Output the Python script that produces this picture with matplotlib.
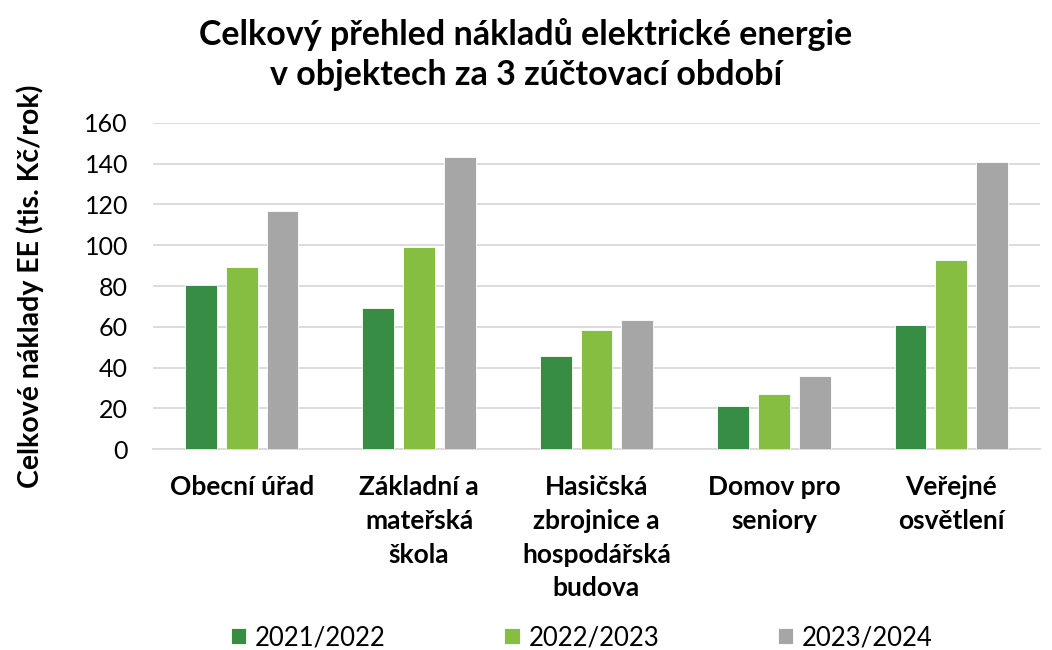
import matplotlib.pyplot as plt
import numpy as np

plt.rcParams['font.family'] = ['Lato', 'DejaVu Sans']

categories = ["Obecní úřad", "Základní a\nmateřská\nškola", "Hasičská\nzbrojnice a\nhospodářská\nbudova",
              "Domov pro\nseniory", "Veřejné\nosvětlení"]
seasons = ["2021/2022", "2022/2023", "2023/2024"]
v_2122 = [80.5, 69.0, 45.8, 21.3, 60.9]
v_2223 = [89.2, 99.3, 58.4, 26.8, 92.9]
v_2324 = [117.0, 143.3, 63.5, 35.7, 140.9]
colors = ["#378d43", "#86be41", "#a6a6a6"]

fig = plt.figure(figsize=(10.52, 6.5), dpi=100)
ax = fig.add_axes([0.1454, 0.3092, 0.8432, 0.5016])

x = np.arange(len(categories))
w = 0.18
step = 0.23
for i, (vals, lab) in enumerate(zip([v_2122, v_2223, v_2324], seasons)):
    ax.bar(x + (i - 1) * step, vals, w, color=colors[i], label=lab,
           edgecolor="white", linewidth=0.6, zorder=3)

ax.set_xlim(-0.5, len(categories) - 0.5)
ax.set_ylim(0, 160)
ax.set_yticks(range(0, 161, 20))
ax.grid(axis="y", color="#d9d9d9", linewidth=1.3, zorder=0)
for s in ["top", "right", "left"]:
    ax.spines[s].set_visible(False)
ax.spines["bottom"].set_color("#d9d9d9")
ax.spines["bottom"].set_linewidth(1.3)
ax.tick_params(axis="both", length=0, colors="black")
ax.tick_params(axis="y", pad=18, labelsize=18)
ax.set_xticks(x)
ax.set_xticklabels(categories, fontweight="bold", fontsize=19, linespacing=1.48)
ax.tick_params(axis="x", pad=19)

ax.set_ylabel("Celkové náklady EE (tis. Kč/rok)", fontsize=20.5, fontweight="bold", labelpad=29)

fig.suptitle("Celkový přehled nákladů elektrické energie\nv objektech za 3 zúčtovací období",
             fontsize=24.5, fontweight="bold", y=0.972, linespacing=1.3)

fig.legend(loc="lower center", bbox_to_anchor=(0.553, -0.036), ncol=3, frameon=False,
           fontsize=18.5, handlelength=0.6, handleheight=0.6, handletextpad=0.35, columnspacing=4.6)

fig.savefig("out.png", dpi=100)
